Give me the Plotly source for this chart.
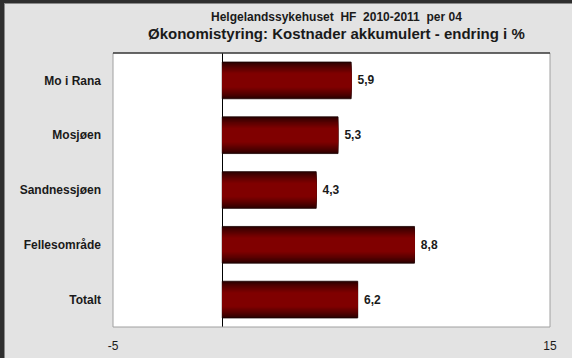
import plotly.graph_objects as go

# Data
categories = ["Mo i Rana", "Mosjøen", "Sandnessjøen", "Fellesområde", "Totalt"]
change_pct = [5.9, 5.3, 4.3, 8.8, 6.2]
x_ticks = [-5, 15]
title_line1 = "Helgelandssykehuset  HF  2010-2011  per 04"
title_line2 = "Økonomistyring: Kostnader akkumulert - endring i %"

# Canvas geometry (pixels)
W, H = 572, 358
ML, MR, MT, MB = 113, 22, 53, 31
PW, PH = W - ML - MR, H - MT - MB

FONT = "Liberation Sans, Arial, sans-serif"
BG = "#e3e3e3"
FRAME = "#2f2f2f"


def px_x(px):
    return (px - ML) / PW


def px_y(py):
    return 1 - (py - MT) / PH


fig = go.Figure()

# Shaded cylinder look: overlaid bars, widest/darkest first, narrowing toward a bright core
bar_w = 0.67
n_layers = 14
dark = (42, 0, 0)
red = (128, 0, 0)
for i in range(n_layers):
    t = i / (n_layers - 1)              # 0 = outer edge, 1 = core
    half = 1.0 - 0.68 * t               # relative height of this layer
    k = min(1.0, t / 0.9) ** 0.8
    c = tuple(round(dark[j] + (red[j] - dark[j]) * k) for j in range(3))
    outer = i == 0
    fig.add_trace(go.Bar(
        y=categories,
        x=change_pct,
        orientation="h",
        width=bar_w * half,
        marker=dict(color="rgb(%d,%d,%d)" % c,
                    line=dict(color="#1a0000" if outer else "rgba(0,0,0,0)",
                              width=0.8 if outer else 0)),
        texttemplate=" %{x:.1f}" if outer else None,
        textposition="outside" if outer else "none",
        textfont=dict(family=FONT, size=12, color="#1a1a1a", weight="bold"),
        cliponaxis=False,
        hoverinfo=None if outer else "skip",
        showlegend=False,
    ))

fig.update_layout(
    width=W, height=H,
    autosize=False,
    margin=dict(l=ML, r=MR, t=MT, b=MB),
    paper_bgcolor=BG,
    plot_bgcolor="white",
    barmode="overlay",
    separators=", ",
    font=dict(family=FONT, color="#1a1a1a"),
    xaxis=dict(
        range=[x_ticks[0], x_ticks[-1]],
        tickvals=x_ticks,
        ticktext=[str(v) for v in x_ticks],
        showgrid=False,
        zeroline=True, zerolinecolor="black", zerolinewidth=1,
        showline=False,
        ticks="",
        ticklabelstandoff=10,
        tickfont=dict(family=FONT, size=12, color="#1a1a1a"),
        automargin=False,
    ),
    yaxis=dict(
        categoryorder="array", categoryarray=categories,
        autorange="reversed",
        showgrid=False, zeroline=False, showline=False,
        ticks="",
        ticklabelstandoff=11,
        tickfont=dict(family=FONT, size=12, color="#1a1a1a", weight="bold"),
        automargin=False,
    ),
    shapes=[
        # plot-area border: grey sides, black top edge
        dict(type="rect", xref="paper", yref="paper", x0=0, x1=1, y0=0, y1=1,
             line=dict(color="#a0a0a0", width=1), layer="above"),
        dict(type="line", xref="paper", yref="paper", x0=0, x1=1, y0=1, y1=1,
             line=dict(color="black", width=1.2), layer="above"),
        # dark window frame on the left and top
        dict(type="rect", xref="paper", yref="paper",
             x0=px_x(0), x1=px_x(4), y0=px_y(H), y1=px_y(0),
             fillcolor=FRAME, line=dict(width=0), layer="above"),
        dict(type="rect", xref="paper", yref="paper",
             x0=px_x(0), x1=px_x(W), y0=px_y(3), y1=px_y(0),
             fillcolor=FRAME, line=dict(width=0), layer="above"),
        dict(type="line", xref="paper", yref="paper",
             x0=px_x(4.5), x1=px_x(4.5), y0=px_y(H), y1=px_y(3),
             line=dict(color="#8a8a8a", width=1), layer="above"),
        dict(type="line", xref="paper", yref="paper",
             x0=px_x(4), x1=px_x(W), y0=px_y(3.5), y1=px_y(3.5),
             line=dict(color="#8a8a8a", width=1), layer="above"),
    ],
    annotations=[
        dict(text="<b>%s</b>" % title_line1, xref="paper", yref="paper",
             x=px_x(336), y=px_y(24.5), xanchor="center", yanchor="bottom",
             borderpad=0, showarrow=False,
             font=dict(family=FONT, size=12, color="#1a1a1a")),
        dict(text="<b>%s</b>" % title_line2, xref="paper", yref="paper",
             x=px_x(336), y=px_y(24), xanchor="center", yanchor="top",
             borderpad=0, showarrow=False,
             font=dict(family=FONT, size=15, color="#1a1a1a")),
    ],
)

# keep the page exactly the size of the figure (no body margin or scrollbars)
fig.write_html(
    "out.html",
    post_script="document.documentElement.style.overflow='hidden';"
                "document.body.style.margin='0';",
)
